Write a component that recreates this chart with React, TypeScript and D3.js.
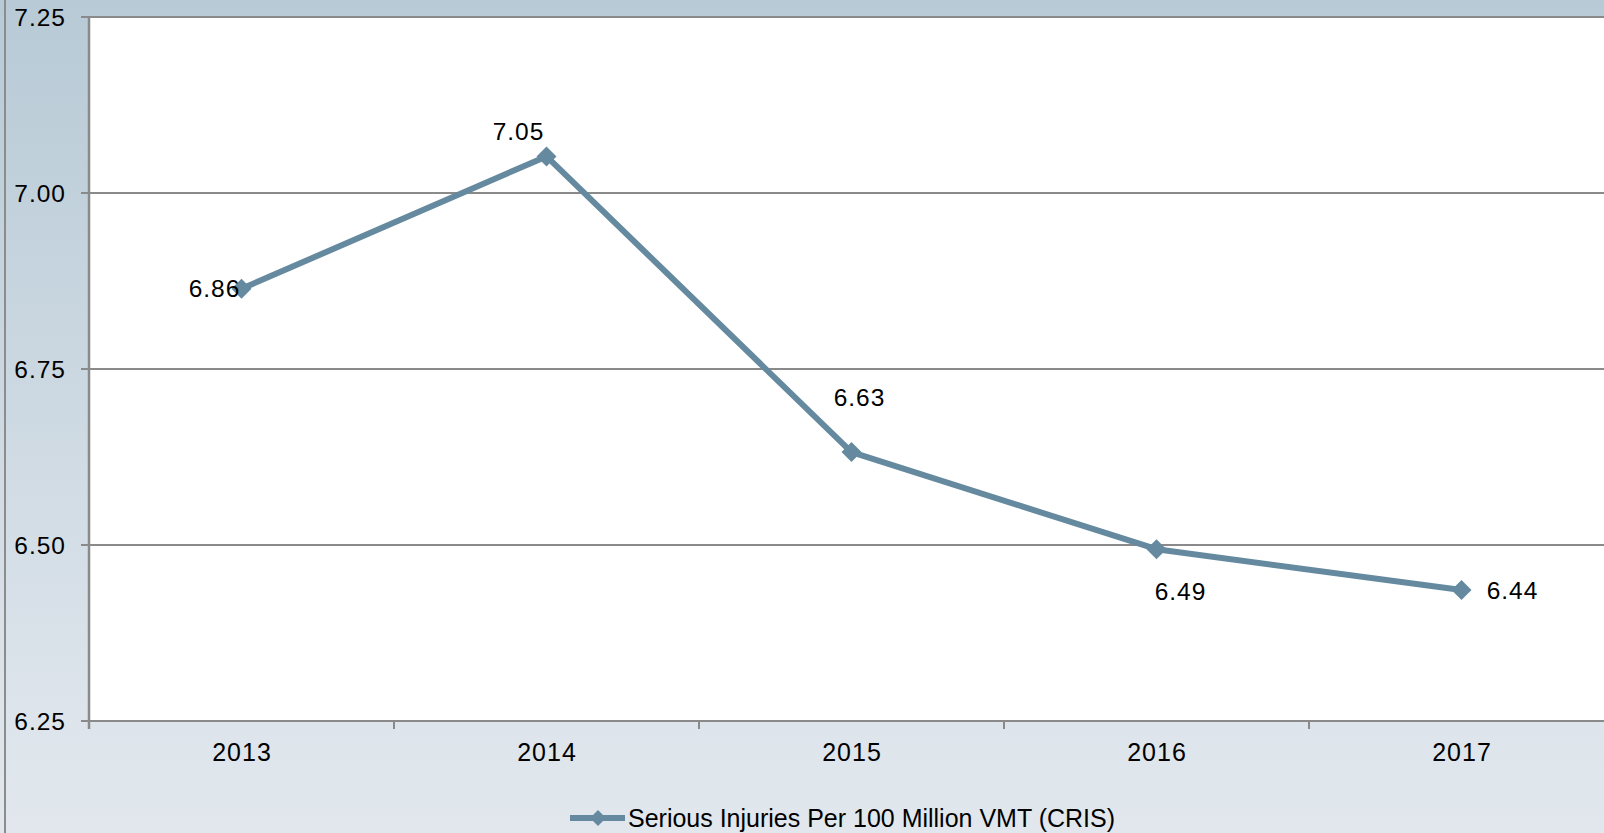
import React from "react";
import * as d3 from "d3";

const years = ["2013", "2014", "2015", "2016", "2017"];
const values = [6.864, 7.052, 6.632, 6.494, 6.436];
const yTicks = [6.25, 6.5, 6.75, 7.0, 7.25];
const seriesName = "Serious Injuries Per 100 Million VMT (CRIS)";

// label placement offsets (style, relative to each point)
const labelOffsets: [number, number][] = [
  [-27, 0],
  [-28, -25],
  [8, -55],
  [24, 42],
  [51, 0],
];

const W = 1604;
const H = 833;
const M = { left: 89, top: 17, bottom: 721 };
const BAND = 305;
const LINE = "#658aa0";
const GRID = "#8a8a8a";
const FONT = "'Liberation Sans', Arial, sans-serif";

export default function App() {
  const x = d3
    .scaleBand<string>()
    .domain(years)
    .range([M.left, M.left + BAND * years.length])
    .paddingInner(0)
    .paddingOuter(0);
  const y = d3.scaleLinear().domain([6.25, 7.25]).range([M.bottom, M.top]);
  const cx = (d: string) => (x(d) as number) + x.bandwidth() / 2;
  const pts: [number, number][] = years.map((d, i) => [cx(d), y(values[i])]);
  const line = d3.line()(pts) as string;
  const fmt = d3.format(".2f");
  const edges = years.map((d) => x(d) as number);
  const diamond = (s: number) => `M0,${-s} L${s},0 L0,${s} L${-s},0 Z`;

  return (
    <svg
      width={W}
      height={H}
      style={{ position: "fixed", left: 0, top: 0, display: "block" }}
      fontFamily={FONT}
    >
      <defs>
        <linearGradient id="bg" x1="0" y1="0" x2="0" y2="1">
          <stop offset="0" stopColor="#b7cad6" />
          <stop offset="0.85" stopColor="#dde4eb" />
          <stop offset="1" stopColor="#e1e7ed" />
        </linearGradient>
      </defs>
      <rect x={0} y={0} width={W} height={H} fill="url(#bg)" />
      <line x1={5} x2={5} y1={0} y2={H} stroke="#8c8c8c" strokeWidth={2} />
      <rect
        x={M.left}
        y={M.top}
        width={W - M.left}
        height={M.bottom - M.top}
        fill="#ffffff"
      />
      {yTicks.map((t) => (
        <g key={t}>
          <line
            x1={M.left - 8}
            x2={W}
            y1={y(t)}
            y2={y(t)}
            stroke={GRID}
            strokeWidth={2}
          />
          <text
            x={66}
            y={y(t) + 8.5}
            textAnchor="end"
            fontSize={24.5}
            letterSpacing={1}
            fill="#000"
          >
            {fmt(t)}
          </text>
        </g>
      ))}
      <line
        x1={M.left}
        x2={M.left}
        y1={M.top}
        y2={M.bottom + 8}
        stroke={GRID}
        strokeWidth={2.5}
      />
      {edges.slice(1).map((e, i) => (
        <line
          key={i}
          x1={e}
          x2={e}
          y1={M.bottom}
          y2={M.bottom + 8}
          stroke={GRID}
          strokeWidth={2}
        />
      ))}
      {years.map((d) => (
        <text
          key={d}
          x={cx(d) + 0.5}
          y={761}
          textAnchor="middle"
          fontSize={25}
          letterSpacing={1}
          fill="#000"
        >
          {d}
        </text>
      ))}
      <path d={line} fill="none" stroke={LINE} strokeWidth={6} strokeLinejoin="round" />
      {pts.map((p, i) => (
        <path key={i} d={diamond(10)} transform={`translate(${p[0]},${p[1]})`} fill={LINE} />
      ))}
      {pts.map((p, i) => (
        <text
          key={i}
          x={p[0] + labelOffsets[i][0]}
          y={p[1] + labelOffsets[i][1] + 8.5}
          textAnchor="middle"
          fontSize={24.5}
          letterSpacing={1}
          fill="#000"
        >
          {fmt(values[i])}
        </text>
      ))}
      <g>
        <line x1={570} x2={625} y1={818} y2={818} stroke={LINE} strokeWidth={6} />
        <path d={diamond(8)} transform="translate(598,818)" fill={LINE} />
        <text
          x={628}
          y={827}
          fontSize={26}
          textLength={487}
          lengthAdjust="spacingAndGlyphs"
          fill="#000"
        >
          {seriesName}
        </text>
      </g>
    </svg>
  );
}
